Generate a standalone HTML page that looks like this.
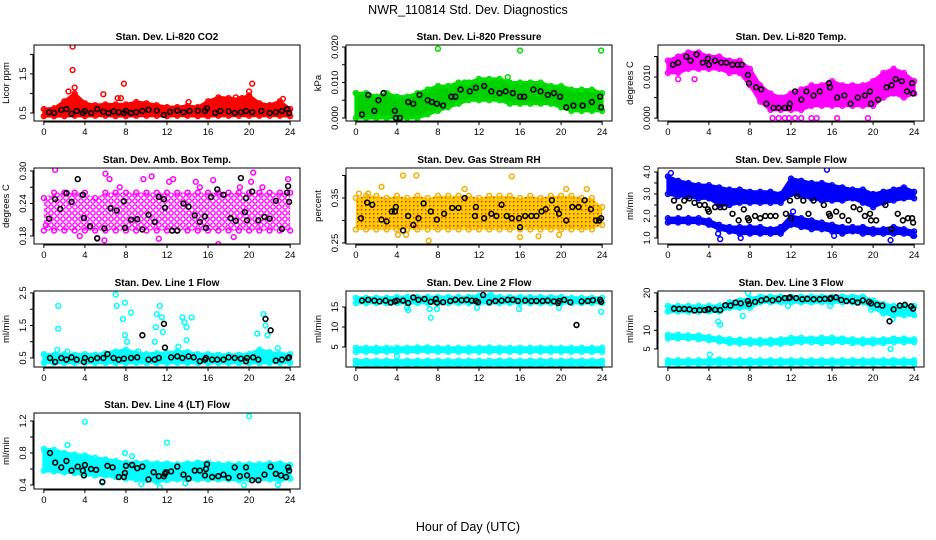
<!DOCTYPE html>
<html><head><meta charset="utf-8">
<style>
html,body{margin:0;padding:0;background:#fff;}
svg{display:block;font-family:"Liberation Sans",Arial,sans-serif;}
</style></head>
<body>
<svg id="chart" width="936" height="540" viewBox="0 0 936 540" xmlns="http://www.w3.org/2000/svg">
<defs>
<pattern id="pat-amb" width="6" height="6" patternUnits="userSpaceOnUse"><rect width="6" height="6" fill="#fff"/><circle cx="3" cy="3" r="2.2" fill="none" stroke="#ff00ff" stroke-width="1.4"/></pattern>
<pattern id="pat-rh" width="4" height="4" patternUnits="userSpaceOnUse"><rect width="4" height="4" fill="#ffd000"/><rect x="1" y="1" width="1.5" height="1.5" fill="#ff2000"/></pattern>
</defs>
<rect x="0" y="0" width="936" height="540" fill="#fff"/>
<text x="468" y="14" font-size="12.5" text-anchor="middle">NWR_110814  Std. Dev. Diagnostics</text>
<text x="468" y="531" font-size="12.5" text-anchor="middle">Hour of Day (UTC)</text>
</svg>
<script>
// ---- data arrays (hourly envelope lo/hi, black points, outliers) ----
const hours = [0,1,2,3,4,5,6,7,8,9,10,11,12,13,14,15,16,17,18,19,20,21,22,23,24];

const co2Lo = [0.42,0.42,0.42,0.43,0.42,0.43,0.43,0.42,0.42,0.43,0.43,0.43,0.42,0.43,0.43,0.42,0.42,0.43,0.43,0.43,0.43,0.43,0.43,0.43,0.42];
const co2Hi = [0.6,0.62,0.8,1.0,0.75,0.7,0.72,0.72,0.72,0.78,0.75,0.7,0.65,0.65,0.68,0.65,0.8,0.9,0.88,0.85,0.95,0.75,0.7,0.8,0.6];
const co2OutH = [2.8,2.8,7.8,5.8,7.2,7.5,20.3,20.0,14.1,18.7,19.3,23.3,2.4,3.0];
const co2OutV = [2.2,1.6,1.25,0.98,0.88,0.88,1.25,1.05,0.78,0.9,0.88,0.86,1.05,1.15];
const co2BlkH = [0.5,1,1.7,2.2,2.7,3.2,3.8,4,4.6,5.2,5.8,6.3,6.8,7.3,7.8,8,8.5,9,9.6,10.2,11,11.7,12.3,13,13.6,14.2,15,15.7,15.9,16.7,17.2,18,18.6,19.2,19.7,20.3,21.2,22,22.6,23.2,23.7,23.9];
const co2BlkV = [0.52,0.5,0.58,0.6,0.48,0.55,0.5,0.55,0.5,0.6,0.53,0.5,0.54,0.52,0.5,0.55,0.5,0.52,0.55,0.58,0.56,0.45,0.53,0.56,0.52,0.55,0.56,0.55,0.62,0.5,0.55,0.54,0.5,0.52,0.55,0.52,0.55,0.5,0.52,0.55,0.6,0.5];

const presLo = [0,0,0,0,0,0,0,0.001,0.002,0.003,0.004,0.005,0.005,0.005,0.005,0.004,0.004,0.004,0.004,0.004,0.003,0.002,0.002,0.002,0.002];
const presHi = [0.007,0.007,0.006,0.007,0.006,0.006,0.007,0.008,0.009,0.009,0.010,0.010,0.011,0.011,0.011,0.010,0.010,0.010,0.010,0.009,0.009,0.008,0.008,0.008,0.007];
const presOutH = [8,16,23.9,0,10.6,14.8];
const presOutV = [0.0195,0.019,0.019,0.007,0.010,0.0115];
const presBlkH = [0.6,1.2,1.8,2.2,2.7,3.8,3.9,4.3,5.1,5.6,6.2,7,7.4,7.9,8.5,9.3,9.7,10.2,11.1,11.7,12.5,13.2,14,14.6,15.3,16,16.4,17.3,18,18.7,19.3,19.9,20.5,21.2,22.1,23,23.8,23.9];
const presBlkV = [0.001,0.0065,0.002,0.005,0.007,0.002,0,0,0.0045,0.004,0.0065,0.005,0.0045,0.004,0.0035,0.006,0.006,0.008,0.0075,0.0085,0.009,0.0075,0.007,0.0075,0.007,0.006,0.006,0.008,0.0075,0.0065,0.007,0.006,0.003,0.0035,0.0035,0.0045,0.006,0.003];

const tempLo = [0.011,0.011,0.012,0.012,0.012,0.012,0.011,0.011,0.008,0.004,0.002,0.002,0.002,0.002,0.003,0.003,0.003,0.003,0.003,0.003,0.003,0.005,0.006,0.005,0.006];
const tempHi = [0.014,0.015,0.016,0.016,0.015,0.015,0.014,0.014,0.012,0.008,0.006,0.005,0.006,0.007,0.008,0.008,0.009,0.008,0.008,0.008,0.009,0.011,0.012,0.011,0.009];
const tempOutH = [10.2,10.8,11.4,11.8,12.4,13.0,14.0,14.5,16.5,19.5,1.0,2.6];
const tempOutV = [0,0,0,0,0,0,0,0,0,0,0.0095,0.0095];
const tempBlkH = [0.5,1,1.8,2.2,2.8,3.4,3.9,4,4.6,5.2,5.7,6.3,6.8,7.2,7.8,7.9,8.6,9.1,9.6,10.3,10.8,11.4,11.8,11.9,12.4,13,13.5,14.2,14.8,15.7,15.8,16.5,17.2,17.8,18.5,19.2,19.7,19.8,20.5,21.3,21.8,22.2,22.8,23.3,23.8,23.9];
const tempBlkV = [0.013,0.0135,0.015,0.014,0.0155,0.0135,0.0145,0.013,0.014,0.0135,0.0135,0.013,0.013,0.013,0.0105,0.0085,0.0075,0.007,0.0035,0.0025,0.0025,0.0025,0.0025,0.0035,0.0065,0.0045,0.0065,0.0055,0.0065,0.0085,0.0075,0.005,0.0055,0.0035,0.005,0.0055,0.0065,0.0035,0.0045,0.0075,0.008,0.0095,0.009,0.0065,0.0085,0.006];

const ambLo = [0.19,0.19,0.19,0.19,0.19,0.19,0.19,0.19,0.19,0.19,0.19,0.19,0.19,0.19,0.19,0.19,0.19,0.19,0.19,0.19,0.19,0.19,0.19,0.19,0.19];
const ambHi = [0.25,0.26,0.26,0.26,0.26,0.25,0.26,0.26,0.26,0.26,0.26,0.26,0.26,0.26,0.26,0.26,0.26,0.26,0.26,0.26,0.26,0.26,0.26,0.26,0.26];
const ambOutH = [1.1,6,6.4,2.2,9.7,12.2,12.6,14.8,16.5,17,20.4,19.1,21.3,23.8,5.2,5.9,11.2,18.5,0.2,3.5,7.4,10.5,15.2,20.2];
const ambOutV = [0.302,0.295,0.285,0.26,0.285,0.28,0.285,0.28,0.283,0.165,0.297,0.27,0.27,0.285,0.175,0.172,0.175,0.178,0.2,0.18,0.27,0.29,0.27,0.28];
const ambBlkH = [0.5,1.1,1.6,2.2,2.7,3.3,3.8,3.9,4.5,5.2,5.9,6.5,7.1,7.8,7.9,8.5,9.1,9.6,10.2,10.8,11.2,11.7,11.8,12.5,13,13.6,14.1,14.7,15.2,15.7,15.8,16.3,16.9,17.5,18.2,18.7,19.2,19.6,19.7,19.8,20.3,20.9,21.5,22,22.6,23.2,23.7,23.8,23.9];
const ambBlkV = [0.212,0.248,0.23,0.259,0.243,0.285,0.256,0.213,0.198,0.176,0.194,0.231,0.227,0.244,0.195,0.21,0.211,0.192,0.219,0.206,0.252,0.248,0.232,0.19,0.19,0.24,0.234,0.218,0.206,0.216,0.195,0.252,0.266,0.256,0.213,0.208,0.287,0.224,0.25,0.209,0.262,0.209,0.215,0.212,0.245,0.193,0.26,0.272,0.243];

const rhLo = [0.28,0.28,0.28,0.28,0.28,0.28,0.28,0.28,0.28,0.28,0.28,0.28,0.28,0.28,0.28,0.28,0.28,0.28,0.28,0.28,0.28,0.28,0.28,0.28,0.29];
const rhHi = [0.35,0.355,0.355,0.35,0.355,0.35,0.355,0.35,0.355,0.355,0.355,0.355,0.35,0.355,0.355,0.355,0.35,0.355,0.35,0.355,0.355,0.355,0.35,0.35,0.33];
const rhOutH = [4.6,5.9,7.1,10.6,15.2,16.0,20.5,0.3,1.2,4.1,4.9,17.8,19.8,22.5,2.5];
const rhOutV = [0.4,0.4,0.255,0.37,0.398,0.263,0.37,0.36,0.36,0.268,0.268,0.265,0.268,0.37,0.375];
const rhBlkH = [0.5,1.1,1.6,2.5,3,3.5,3.8,3.9,4.6,5.1,5.6,6.1,6.6,7.3,7.9,8.6,9.4,10,10.6,11.6,11.7,12.5,13.2,13.7,14.2,14.7,15.2,15.9,16,16.5,17.1,17.6,18.1,18.5,19.1,19.6,19.8,20.5,21.1,21.7,22.3,22.9,23.4,23.7,23.9];
const rhBlkV = [0.305,0.34,0.335,0.302,0.298,0.32,0.32,0.33,0.278,0.31,0.29,0.305,0.338,0.32,0.302,0.315,0.328,0.328,0.35,0.31,0.33,0.305,0.315,0.31,0.335,0.31,0.305,0.305,0.285,0.31,0.31,0.31,0.32,0.325,0.345,0.325,0.315,0.3,0.33,0.33,0.345,0.325,0.3,0.3,0.305];

const flowHiLo = [3.0,2.9,2.9,2.8,2.8,2.5,2.5,2.6,2.6,2.6,2.6,2.6,3.0,2.9,2.8,2.7,2.7,2.7,2.8,2.6,2.4,2.6,2.7,2.8,2.8];
const flowHiHi = [3.8,3.6,3.5,3.4,3.4,3.3,3.2,3.2,3.1,3.1,3.1,3.0,3.7,3.6,3.5,3.5,3.4,3.3,3.2,3.2,3.0,3.1,3.2,3.3,3.1];
const flowLoLo = [1.7,1.7,1.7,1.7,1.6,1.4,1.3,1.2,1.2,1.2,1.2,1.2,1.6,1.5,1.4,1.4,1.3,1.2,1.3,1.2,1.2,1.2,1.2,1.2,1.1];
const flowLoHi = [1.9,1.9,1.9,1.9,1.8,1.6,1.5,1.5,1.5,1.5,1.4,1.5,2.0,1.9,1.8,1.7,1.6,1.5,1.5,1.5,1.4,1.4,1.5,1.4,1.3];
const flowOutH = [15.5,5.1,4.9,7.1,16.2,21.7,12.2,23.9,0.3];
const flowOutV = [4.1,0.95,1.2,1.0,1.1,0.9,2.2,1.1,3.95];
const flowBlkH = [0.6,1.1,1.6,2.1,2.6,3.1,3.6,3.9,4,4.6,5.1,5.5,6.3,6.9,7.4,7.8,7.9,8.5,9,9.5,10,10.5,11.5,11.9,12,12.6,13.2,13.7,14.2,15.2,15.7,15.8,16.4,17,17.6,18.1,18.7,19.2,19.7,19.8,20.3,21.2,21.8,22.4,22.9,23.4,23.8,23.9];
const flowBlkV = [2.7,2.4,2.7,2.8,2.6,2.5,2.5,2.3,2.2,2.4,2.4,2.4,2.1,1.8,2.3,1.9,1.8,2.0,1.9,2.0,2.0,2.0,2.1,2.7,1.9,2.9,2.7,2.1,2.7,2.5,2.1,2.0,2.2,2.0,1.8,2.4,2.3,2.0,2.1,1.8,1.8,2.5,1.4,2.1,1.8,1.9,1.9,1.7];

const l1Lo = [0.35,0.35,0.35,0.35,0.35,0.35,0.35,0.35,0.35,0.35,0.35,0.35,0.35,0.35,0.35,0.35,0.35,0.35,0.35,0.35,0.35,0.35,0.35,0.35,0.35];
const l1Hi = [0.62,0.6,0.62,0.6,0.62,0.6,0.65,0.7,0.75,0.65,0.62,0.65,0.65,0.7,0.68,0.62,0.62,0.6,0.6,0.6,0.62,0.75,0.68,0.62,0.62];
const l1OutH = [1.4,1.4,7,7.1,7.9,8.5,7.7,7.9,8.1,11.3,11,10.9,11.5,11.6,13.5,13.7,13.9,14.4,13.1,13.9,21.4,21.6,20.8,21.8,22.8,1.3,9.2,10.8,2.3];
const l1OutV = [2.1,1.4,2.45,2.1,2.2,1.9,1.7,1.2,1.0,2.1,1.85,1.45,1.75,1.3,1.75,1.6,1.45,1.75,0.85,1.05,1.85,1.5,1.25,1.2,0.8,0.75,0.7,1.0,0.7];
const l1BlkH = [0.6,1.1,1.7,2.2,2.7,3.2,3.9,4,4.6,5.2,5.8,6.2,6.8,7.3,7.8,8.5,9.1,9.6,10.2,10.8,11.2,11.7,11.8,12.4,13,13.5,14.1,14.6,15.2,15.7,15.8,16.4,16.9,17.5,18,18.6,19.2,19.7,19.8,20.4,20.9,21.6,22.1,22.6,23.2,23.8,23.9];
const l1BlkV = [0.5,0.38,0.5,0.45,0.52,0.45,0.38,0.5,0.45,0.5,0.5,0.62,0.5,0.45,0.48,0.5,0.52,1.2,0.45,0.45,0.5,1.55,0.82,0.52,0.55,0.5,0.55,0.52,0.4,0.45,0.5,0.45,0.45,0.45,0.52,0.5,0.48,0.4,0.5,0.52,0.45,1.7,1.35,0.42,0.45,0.5,0.52];

const l2TopLo = [16,16,16,16,16,16,16,16,16,16,16,16,16,16,16,16,16,16,16,16,16,16,16,16,16];
const l2TopHi = [17.3,17.3,17.3,17.3,17.5,17.5,17.5,17.5,17.5,17.5,17.5,17.5,17.8,17.8,17.5,17.5,17.5,17.5,17.5,17.5,17.5,17.3,17.3,17.3,17.3];
const l2MidLo = [3.8,3.8,3.8,3.8,3.8,3.8,3.9,3.9,3.8,3.8,3.8,3.8,3.8,3.8,3.8,3.8,3.8,3.8,3.8,3.8,3.8,3.8,3.8,3.8,3.8];
const l2MidHi = [4.8,4.8,4.8,4.8,4.8,4.8,4.9,4.9,4.8,4.8,4.8,4.8,4.8,4.9,4.8,4.8,4.8,4.8,4.8,4.8,4.8,4.8,4.8,4.8,4.8];
const l2BotLo = [0.6,0.6,0.6,0.6,0.6,0.6,0.6,0.6,0.6,0.6,0.6,0.6,0.6,0.6,0.6,0.6,0.6,0.6,0.6,0.6,0.6,0.6,0.6,0.6,0.6];
const l2BotHi = [1.6,1.6,1.6,1.6,1.6,1.6,1.6,1.6,1.6,1.6,1.6,1.6,1.6,1.6,1.6,1.6,1.6,1.6,1.6,1.6,1.6,1.6,1.6,1.6,1.6];
const l2OutH = [5,5.1,7.2,7.3,7.9,11.8,15.9,19.8,23.9,4.0,13.2];
const l2OutV = [14.8,14.2,14.5,12.3,14.5,14.8,14.5,14.8,13.8,2.7,18];
const l2BlkH = [0.6,1.2,1.8,2.3,2.9,3.4,3.8,4,4.6,5.1,5.6,6.1,6.7,7.3,7.8,7.9,8.5,9.2,9.7,10.3,10.8,11.3,11.7,11.9,12.4,13,13.6,14.2,14.8,15.3,15.8,16.5,17.1,17.6,18.2,18.7,19.3,19.7,19.8,20.3,20.9,21.5,22,22.6,23.1,23.8,23.9];
const l2BlkV = [16.6,16.8,16.6,16.4,16.6,16.1,16.4,16.6,16.6,16,17.4,16.8,17,16.3,17,16.1,16.2,16.5,16.8,16.7,16.8,16.6,16.5,16.2,18,16.2,16.5,16.6,16.8,16.8,16.5,16.6,16.5,16.5,16.5,16.6,16.4,16.0,16.5,16.8,16.2,10.5,16.4,16.5,16.7,16.8,16.3];

const l3TopLo = [15,15,15,15,15,15,16,16,16,17.5,17.5,17.5,17.5,17.5,17.5,17.5,17.5,17.5,17.5,17.5,16,14.5,14,14,14];
const l3TopHi = [16.5,16.5,16.5,16.5,16.5,16.5,17.5,18,18.5,19,19,19,19,19,19,19,19,19,19,19,18,17,16.5,16.5,16.5];
const l3MidLo = [7.8,7.8,7.8,7.6,7.4,7,6.6,6.5,6.4,6.4,6.4,6.4,6.6,6.8,6.8,6.6,6.8,6.8,6.6,6.5,6.5,6.6,6.8,6.8,6.8];
const l3MidHi = [8.8,8.8,8.6,8.6,8.2,7.9,7.6,7.5,7.4,7.4,7.4,7.6,8.0,8.0,7.8,8.0,8.0,7.8,7.6,7.5,7.5,7.6,7.8,7.8,7.6];
const l3BotLo = [1,1,1,1,1,1,1,1,1,1,1,1,1,1,1,1,1,1,1,1,1,1,1,1,1];
const l3BotHi = [2,2,2,2,2,2.2,2,2,2,2,2,2,2,2,2,2,2,2,2,2,2,2,2,2,2];
const l3OutH = [4.1,5.1,4.9,7.3,7.8,11.7,15.8,19.8,21.7,21.9,23.9];
const l3OutV = [3.5,11.5,12.3,13.8,20,16.5,16.5,15.5,5,13,14.5];
const l3BlkH = [0.6,1.1,1.6,2.1,2.6,3.1,3.6,3.9,4,4.6,5.1,5.6,6.1,6.6,7.1,7.8,7.9,8.5,9.1,9.6,10.2,10.8,11.4,11.8,11.9,12.5,13.1,13.6,14.2,14.8,15.3,15.8,15.9,16.4,16.9,17.4,18,18.5,19,19.6,19.8,20.4,20.9,21.6,22,22.6,23.1,23.7,23.9];
const l3BlkV = [15.8,15.7,15.7,15.6,15.3,15.4,15.4,15.6,15.7,15.5,15.4,16.7,16.6,17.4,17.2,17.8,17.0,17.6,18.0,18.3,18.0,18.3,18.6,18.6,18.8,18.6,18.3,18.4,18.3,18.3,18.4,18.4,18.6,18.8,18.1,17.8,17.8,17.4,18,17.6,17.2,16.8,16.6,12.4,15.6,16.6,16.8,16.4,15.8];

const l4Lo = [0.58,0.57,0.56,0.55,0.53,0.52,0.52,0.5,0.48,0.47,0.46,0.44,0.46,0.47,0.47,0.47,0.47,0.47,0.47,0.46,0.47,0.47,0.47,0.46,0.48];
const l4Hi = [0.85,0.84,0.8,0.78,0.77,0.74,0.72,0.7,0.68,0.68,0.68,0.67,0.67,0.66,0.67,0.68,0.68,0.66,0.66,0.66,0.66,0.66,0.67,0.67,0.65];
const l4OutH = [4,12,20,2.3,7.9,8.6,11.3,19.5,22.8,5.7,9.5,13.8,0.1];
const l4OutV = [1.19,0.93,1.26,0.9,0.8,0.76,0.37,0.4,0.4,0.43,0.41,0.42,0.83];
const l4BlkH = [0.6,1.1,1.7,2.2,2.7,3.3,3.8,3.9,4,4.6,5.1,5.7,6.2,6.7,7.3,7.8,7.9,8,8.6,9.1,9.6,10.2,10.7,11.2,11.7,11.8,11.9,12.4,13,13.6,14.1,14.7,15.2,15.7,15.8,15.9,16.4,17,17.5,18,18.6,19.1,19.7,19.8,20.3,20.9,21.5,22.1,22.6,23.1,23.6,23.8,23.9];
const l4BlkV = [0.8,0.68,0.62,0.7,0.58,0.63,0.58,0.52,0.65,0.6,0.59,0.44,0.64,0.62,0.5,0.5,0.55,0.64,0.65,0.61,0.63,0.47,0.56,0.51,0.51,0.54,0.56,0.57,0.63,0.53,0.48,0.58,0.58,0.52,0.6,0.66,0.5,0.51,0.53,0.49,0.62,0.51,0.62,0.52,0.46,0.46,0.53,0.63,0.54,0.52,0.5,0.62,0.58];

// ---- layout config ----
const COLX = [[34,300],[346,612],[658,924]];
const ROWY = [[45,121],[168,244],[291,367],[413,489]];
const XDOM = [-0.96, 24.96];
const xTicks = [0,4,8,12,16,20,24];

const panels = [
 {name:'co2',title:'Stan. Dev. Li-820 CO2',ylab:'Licor ppm',c:0,r:0,dom:[0.295,2.24],ticks:[0.5,1,1.5,2],labels:{0.5:'0.5',1.5:'1.5'},color:'#ff0000',fill:'#ff0000',
  bands:[[co2Lo,co2Hi]],out:[co2OutH,co2OutV],blk:[co2BlkH,co2BlkV]},
 {name:'pressure',title:'Stan. Dev. Li-820 Pressure',ylab:'kPa',c:1,r:0,dom:[-0.00085,0.02056],ticks:[0,0.005,0.01,0.015,0.02],labels:{0:'0.000',0.01:'0.010',0.02:'0.020'},color:'#00dd00',fill:'#00d000',
  bands:[[presLo,presHi]],out:[presOutH,presOutV],blk:[presBlkH,presBlkV]},
 {name:'li820-temp',title:'Stan. Dev. Li-820 Temp.',ylab:'degrees C',c:2,r:0,dom:[-0.0007,0.0178],ticks:[0,0.005,0.01,0.015],labels:{0:'0.000',0.01:'0.010'},color:'#ff00ff',fill:'#ff00ff',
  bands:[[tempLo,tempHi]],out:[tempOutH,tempOutV],blk:[tempBlkH,tempBlkV]},
 {name:'amb-box-temp',title:'Stan. Dev. Amb. Box Temp.',ylab:'degrees C',c:0,r:1,dom:[0.1652,0.3055],ticks:[0.18,0.21,0.24,0.27,0.30],labels:{0.18:'0.18',0.24:'0.24',0.3:'0.30'},color:'#ff00ff',fill:'url(#pat-amb)',
  bands:[[ambLo,ambHi]],out:[ambOutH,ambOutV],blk:[ambBlkH,ambBlkV]},
 {name:'gas-stream-rh',title:'Stan. Dev. Gas Stream RH',ylab:'percent',c:1,r:1,dom:[0.2478,0.4167],ticks:[0.25,0.3,0.35,0.4],labels:{0.25:'0.25',0.35:'0.35'},color:'#f2b000',fill:'url(#pat-rh)',
  bands:[[rhLo,rhHi]],out:[rhOutH,rhOutV],blk:[rhBlkH,rhBlkV]},
 {name:'sample-flow',title:'Stan. Dev. Sample Flow',ylab:'ml/min',c:2,r:1,dom:[0.727,4.18],ticks:[1,1.5,2,2.5,3,3.5,4],labels:{1:'1.0',2:'2.0',3:'3.0',4:'4.0'},color:'#0000ff',fill:'#0000ff',
  bands:[[flowHiLo,flowHiHi],[flowLoLo,flowLoHi]],out:[flowOutH,flowOutV],blk:[flowBlkH,flowBlkV]},
 {name:'line1-flow',title:'Stan. Dev. Line 1 Flow',ylab:'ml/min',c:0,r:2,dom:[0.223,2.56],ticks:[0.5,1,1.5,2,2.5],labels:{0.5:'0.5',1.5:'1.5',2.5:'2.5'},color:'#00ffff',fill:'#00ffff',
  bands:[[l1Lo,l1Hi]],out:[l1OutH,l1OutV],blk:[l1BlkH,l1BlkV]},
 {name:'line2-flow',title:'Stan. Dev. Line 2 Flow',ylab:'ml/min',c:1,r:2,dom:[0,19],ticks:[5,10,15],labels:{5:'5',10:'10',15:'15'},color:'#00ffff',fill:'#00ffff',
  bands:[[l2TopLo,l2TopHi],[l2MidLo,l2MidHi],[l2BotLo,l2BotHi]],out:[l2OutH,l2OutV],blk:[l2BlkH,l2BlkV]},
 {name:'line3-flow',title:'Stan. Dev. Line 3 Flow',ylab:'ml/min',c:2,r:2,dom:[0.18,20.5],ticks:[5,10,15,20],labels:{5:'5',10:'10',20:'20'},color:'#00ffff',fill:'#00ffff',
  bands:[[l3TopLo,l3TopHi],[l3MidLo,l3MidHi],[l3BotLo,l3BotHi]],out:[l3OutH,l3OutV],blk:[l3BlkH,l3BlkV]},
 {name:'line4-flow',title:'Stan. Dev. Line 4 (LT) Flow',ylab:'ml/min',c:0,r:3,dom:[0.35,1.3],ticks:[0.4,0.6,0.8,1.0,1.2],labels:{0.4:'0.4',0.8:'0.8',1.2:'1.2'},color:'#00ffff',fill:'#00ffff',
  bands:[[l4Lo,l4Hi]],out:[l4OutH,l4OutV],blk:[l4BlkH,l4BlkV]}
];

const NS='http://www.w3.org/2000/svg';
const svg=document.getElementById('chart');
function mk(tag,attrs,parent){const e=document.createElementNS(NS,tag);for(const k in attrs)e.setAttribute(k,attrs[k]);(parent||svg).appendChild(e);return e;}

panels.forEach(p=>{
  const [x0,x1]=COLX[p.c],[y0,y1]=ROWY[p.r];
  const xs=v=>x0+(v-XDOM[0])/(XDOM[1]-XDOM[0])*(x1-x0);
  const ys=v=>y1-(v-p.dom[0])/(p.dom[1]-p.dom[0])*(y1-y0);
  const g=mk('g',{});
  
  
  const clipId='clip-'+p.name;
  const cp=mk('clipPath',{id:clipId},g);mk('rect',{x:x0,y:y0,width:x1-x0,height:y1-y0},cp);
  const t=mk('text',{x:(x0+x1)/2,y:y0-5,'font-size':'10','font-weight':'bold','text-anchor':'middle'},g);
  t.textContent=p.title;
  
  
  const yl=mk('text',{x:0,y:0,'font-size':'9.5','text-anchor':'middle',transform:`translate(${x0-25},${(y0+y1)/2}) rotate(-90)`},g);
  yl.textContent=p.ylab;
  
  
  const plot=mk('g',{'clip-path':`url(#${clipId})`},g);
  
  
  const patterned = p.fill.startsWith('url');
  p.bands.forEach(([lo,hi])=>{
    let pts=hours.map((h,i)=>xs(h)+','+ys(hi[i]));
    pts=pts.concat(hours.map((h,i)=>xs(h)+','+ys(lo[i])).reverse());
    const poly=mk('polygon',{points:pts.join(' '),fill:p.fill,stroke:patterned?'none':p.color,'stroke-width':3,'stroke-linejoin':'round'},plot);
    
    
    hours.forEach((h,i)=>{
      [lo[i],hi[i]].forEach(v=>{
        const c=mk('circle',{cx:xs(h),cy:ys(v),r:2.4,fill:'none',stroke:p.color,'stroke-width':1.5},plot);
        
        
      });
    });
  });
  const [oh,ov]=p.out;
  oh.forEach((h,i)=>{
    const c=mk('circle',{cx:xs(h),cy:ys(ov[i]),r:2.4,fill:'none',stroke:p.color,'stroke-width':1.5},plot);
    
    
  });
  const [bh,bv]=p.blk;
  bh.forEach((h,i)=>{
    const c=mk('circle',{cx:xs(h),cy:ys(bv[i]),r:2.4,fill:'none',stroke:'#000','stroke-width':1.6},plot);
    
    
  });
  const box=mk('rect',{x:x0,y:y0,width:x1-x0,height:y1-y0,fill:'none',stroke:'#000','stroke-width':1},g);
  
  
  mk('line',{x1:xs(0),x2:xs(24),y1:y1+1,y2:y1+1,stroke:'#000'},g);
  xTicks.forEach(v=>{
    mk('line',{x1:xs(v),x2:xs(v),y1:y1,y2:y1+4,stroke:'#000'},g);
    const tl=mk('text',{x:xs(v),y:y1+14,'font-size':'9.5','text-anchor':'middle'},g);
    tl.textContent=String(v);
    
    
  });
  mk('line',{x1:x0-1,x2:x0-1,y1:ys(p.ticks[0]),y2:ys(p.ticks[p.ticks.length-1]),stroke:'#000'},g);
  p.ticks.forEach(v=>{
    mk('line',{x1:x0-4,x2:x0,y1:ys(v),y2:ys(v),stroke:'#000'},g);
    const lab=p.labels[v];
    if(lab!==undefined){
      const tl=mk('text',{x:0,y:0,'font-size':'9.5','text-anchor':'middle',transform:`translate(${x0-8},${ys(v)}) rotate(-90)`},g);
      tl.textContent=lab;
      
      
    }
  });
});
</script>
</body></html>
